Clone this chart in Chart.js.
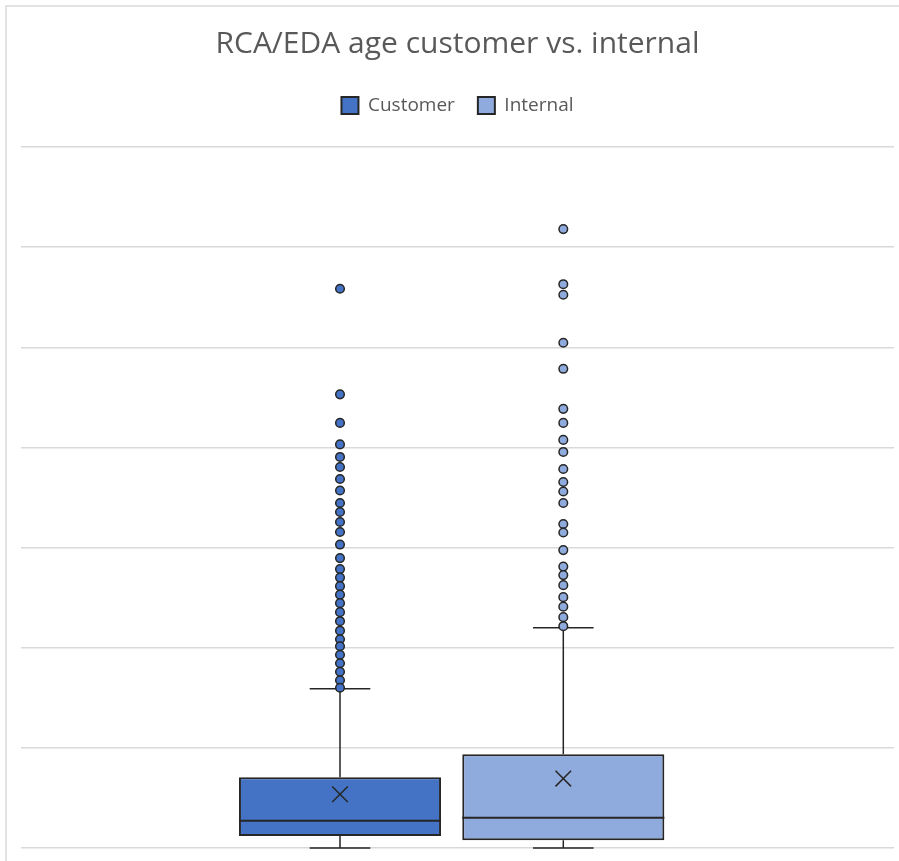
<!DOCTYPE html>
<html>
<head>
<meta charset="utf-8">
<title>RCA/EDA age customer vs. internal</title>
<script src="https://cdn.jsdelivr.net/npm/chart.js@4.4.1/dist/chart.umd.min.js"></script>
<style>
  html, body { margin: 0; padding: 0; background: #ffffff; }
  #frame { position: relative; width: 899px; height: 861px; overflow: hidden; }
  #edge { position: absolute; left: 5px; top: 5px; right: -10px; bottom: -10px;
          border-left: 2px solid #e3e3e3; border-top: 2px solid #e3e3e3; }
  #chart { position: absolute; left: 0; top: 0; }
</style>
</head>
<body>
<div id="frame">
  <div id="edge"></div>
  <canvas id="chart" width="899" height="861"></canvas>
</div>
<script>
// Series and their box-plot statistics (age values)
const seriesNames = ['Customer', 'Internal'];
const seriesPos   = [1, 2];
const whiskerLow  = [0, 0];
const quartile1   = [12, 7.7];
const medians     = [27.3, 30.3];
const quartile3   = [70.7, 93.7];
const means       = [53.7, 69.3];
const whiskerHigh = [159, 220];

// Individual points beyond the upper whisker
const customerOutliers = [558.5, 453, 424.5, 403, 390.5, 380.5, 368.5, 357, 344.5, 335.5,
                          325.5, 315.5, 303, 289.5, 278.5, 270, 261.5, 253, 244.5, 235.5,
                          226.5, 217, 208.5, 201.5, 193, 184.5, 176, 167.5, 160];
const internalOutliers = [618, 563, 552.5, 504.5, 478.5, 438.5, 424.5, 407.5, 395.5, 378.5,
                          365.5, 356, 344.5, 323.5, 315, 297.5, 281, 272.5, 262.5, 250.5,
                          241, 230.5, 221.5];

// Value axis range
const yMin = 0;
const yMax = 700;
const yStep = 100;

const fills = ['#4472C4', '#8FAADC'];
const ink = '#262626';
const textGrey = '#595959';
const outlierSets = [customerOutliers, internalOutliers];

Chart.defaults.font.family = "'Open Sans', 'Noto Sans', sans-serif";

const boxDatasets = seriesNames.map((name, i) => ({
  type: 'bar',
  label: name,
  data: [{ x: seriesPos[i], y: [quartile1[i], quartile3[i]] }],
  backgroundColor: fills[i],
  borderColor: ink,
  borderWidth: 2,
  borderSkipped: false,
  grouped: false,
  categoryPercentage: 1,
  barPercentage: 0.905,
  order: 3
}));

const outlierDatasets = seriesNames.map((name, i) => ({
  type: 'scatter',
  label: name + ' outliers',
  data: outlierSets[i].map(v => ({ x: seriesPos[i], y: v })),
  backgroundColor: fills[i],
  borderColor: ink,
  borderWidth: 1.5,
  pointRadius: 4.3,
  pointHoverRadius: 4.3,
  order: 1
}));

const meanDataset = {
  type: 'scatter',
  label: 'Mean',
  data: means.map((v, i) => ({ x: seriesPos[i], y: v })),
  pointStyle: 'crossRot',
  pointRadius: 11,
  pointHoverRadius: 11,
  borderColor: ink,
  borderWidth: 1.5,
  backgroundColor: 'rgba(0,0,0,0)',
  order: 1
};

// Whiskers, caps and median lines for each box
const boxWhiskers = {
  id: 'boxWhiskers',
  beforeDatasetsDraw(chart) {
    const { ctx, scales: { x, y } } = chart;
    ctx.save();
    ctx.strokeStyle = ink;
    ctx.lineWidth = 1.5;
    seriesNames.forEach((name, i) => {
      const bar = chart.getDatasetMeta(i).data[0];
      if (!bar) return;
      const cx = x.getPixelForValue(seriesPos[i]);
      const half = bar.width * 0.15;
      const yLow = y.getPixelForValue(whiskerLow[i]);
      const yQ1 = y.getPixelForValue(quartile1[i]);
      const yQ3 = y.getPixelForValue(quartile3[i]);
      const yHigh = y.getPixelForValue(whiskerHigh[i]);
      ctx.beginPath();
      ctx.moveTo(cx, yQ1); ctx.lineTo(cx, yLow);
      ctx.moveTo(cx - half, yLow); ctx.lineTo(cx + half, yLow);
      ctx.moveTo(cx, yQ3); ctx.lineTo(cx, yHigh);
      ctx.moveTo(cx - half, yHigh); ctx.lineTo(cx + half, yHigh);
      ctx.stroke();
    });
    ctx.restore();
  },
  afterDatasetDraw(chart, args) {
    const i = args.index;
    if (i >= seriesNames.length) return;
    const bar = args.meta.data[0];
    if (!bar) return;
    const { ctx, scales: { y } } = chart;
    const ym = y.getPixelForValue(medians[i]);
    ctx.save();
    ctx.strokeStyle = ink;
    ctx.lineWidth = 2;
    ctx.beginPath();
    ctx.moveTo(bar.x - bar.width / 2, ym);
    ctx.lineTo(bar.x + bar.width / 2, ym);
    ctx.stroke();
    ctx.restore();
  }
};

// Extra room between the legend row and the plot area
const legendGap = {
  id: 'legendGap',
  beforeInit(chart) {
    const legend = chart.legend;
    if (!legend) return;
    const fit = legend.fit;
    legend.fit = function () {
      fit.call(this);
      this.height += 22;
    };
  }
};

const chart = new Chart(document.getElementById('chart'), {
  data: {
    datasets: [...boxDatasets, meanDataset, ...outlierDatasets]
  },
  options: {
    responsive: false,
    animation: false,
    layout: { autoPadding: false, padding: { left: 21, right: 5, top: 0, bottom: 13 } },
    plugins: {
      title: {
        display: true,
        text: 'RCA/EDA age customer vs. internal',
        color: textGrey,
        font: { size: 30, weight: 'normal' },
        padding: { top: 26, bottom: 11 }
      },
      legend: {
        display: true,
        position: 'top',
        labels: {
          color: textGrey,
          font: { size: 19 },
          boxWidth: 17,
          boxHeight: 17,
          padding: 23,
          filter: (item, data) => data.datasets[item.datasetIndex].type === 'bar'
        }
      },
      tooltip: { enabled: false }
    },
    scales: {
      x: {
        type: 'linear',
        display: false,
        bounds: 'data',
        min: -0.4286,
        max: 3.481,
        ticks: { display: false, autoSkip: false },
        afterBuildTicks: (scale) => { scale.ticks = []; }
      },
      y: {
        type: 'linear',
        min: yMin,
        max: yMax,
        ticks: { stepSize: yStep, display: false },
        grid: { color: '#d9d9d9', lineWidth: 1.5, drawTicks: false },
        border: { display: false }
      }
    }
  },
  plugins: [boxWhiskers, legendGap]
});

if (document.fonts && document.fonts.load) {
  Promise.all([
    document.fonts.load('30px "Open Sans"'),
    document.fonts.load('19px "Open Sans"')
  ]).then(() => chart.update()).catch(() => {});
}
</script>
</body>
</html>
